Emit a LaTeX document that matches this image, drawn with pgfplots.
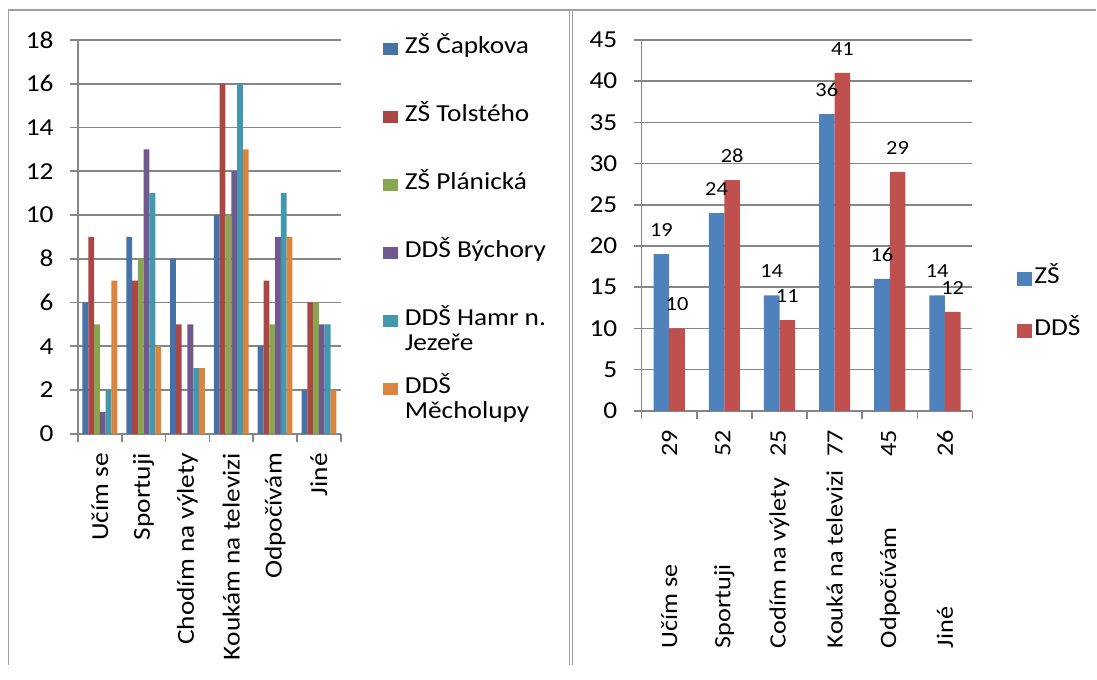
\documentclass[border=0pt]{standalone}
\usepackage{pgfplots}
\pgfplotsset{compat=1.18}
\usepackage{fontspec}
\setmainfont{Carlito}[FakeStretch=1.12]

\definecolor{l1}{HTML}{4572A7}
\definecolor{l2}{HTML}{AA4643}
\definecolor{l3}{HTML}{89A54E}
\definecolor{l4}{HTML}{71588F}
\definecolor{l5}{HTML}{4198AF}
\definecolor{l6}{HTML}{DB843D}
\definecolor{r1}{HTML}{4F81BD}
\definecolor{r2}{HTML}{C0504D}
\definecolor{axgray}{HTML}{868686}
\definecolor{framegray}{HTML}{A0A0A0}

\newcommand\chartfont{\fontsize{12.2pt}{12.5pt}\selectfont}
\newcommand\lgd[1]{\raisebox{0pt}[8pt][0pt]{#1}}
\newcommand\cat[2]{\hbox to 109pt{\fontsize{11.7pt}{12.5pt}\selectfont #1\hfill #2}}

\pgfplotsset{
  base/.style={
    scale only axis, anchor=south west, clip=false,
    xmin=0.5, xmax=6.5,
    axis lines*=left,
    axis line style={draw=axgray, line width=0.8pt},
    ymajorgrids, grid style={draw=axgray, line width=0.8pt},
    tick align=outside, major tick length=4pt,
    tick style={draw=axgray, line width=0.8pt},
    xtick={0.5,1.5,...,6.5}, xticklabels={},
    extra x ticks={1,2,3,4,5,6},
    extra x tick style={grid=none, major tick length=0pt,
      tick label style={rotate=90, anchor=east, inner xsep=9.5pt, inner ysep=0pt}},
    /pgf/number format/assume math mode=true,
    tick label style={font=\chartfont},
    yticklabel style={anchor=east, inner xsep=8pt},
    legend cell align=left,
    legend style={draw=none, fill=none, inner sep=0pt, outer sep=0pt,
      nodes={inner sep=0pt, outer sep=0pt}, font=\chartfont},
  },
}

\begin{document}
\begin{tikzpicture}
\path (0pt,0pt) rectangle (548.5pt,332.5pt);
\draw[framegray, line width=0.6pt] (4pt,327.5pt) -- (548.5pt,327.5pt);
\draw[framegray, line width=0.8pt] (4.25pt,327.5pt) -- (4.25pt,0pt);
\draw[framegray, line width=0.6pt] (284.75pt,327.5pt) -- (284.75pt,0pt);
\draw[framegray, line width=0.6pt] (286.5pt,327.5pt) -- (286.5pt,0pt);

\begin{axis}[base,
  at={(39pt,115.5pt)}, width=131.5pt, height=197pt,
  ymin=0, ymax=18, ytick={0,2,...,18},
  ybar=0pt, bar width=2.9pt,
  extra x tick labels={Učím se, Sportuji, Chodím na výlety, Koukám na televizi, Odpočívám, Jiné},
  legend style={at={(rel axis cs:1.1597,1.0051)}, anchor=north west,
    row sep=24.5pt, column sep=3.5pt},
  legend image code/.code={\fill[#1] (0pt,-3.65pt) rectangle (7.5pt,2.15pt);},
]
\addplot[fill=l1, draw=none] coordinates {(1,6) (2,9) (3,8) (4,10) (5,4) (6,2)};
\addlegendentry{\lgd{ZŠ Čapkova}}
\addplot[fill=l2, draw=none] coordinates {(1,9) (2,7) (3,5) (4,16) (5,7) (6,6)};
\addlegendentry{\lgd{ZŠ Tolstého}}
\addplot[fill=l3, draw=none] coordinates {(1,5) (2,8) (3,0) (4,10) (5,5) (6,6)};
\addlegendentry{\lgd{ZŠ Plánická}}
\addplot[fill=l4, draw=none] coordinates {(1,1) (2,13) (3,5) (4,12) (5,9) (6,5)};
\addlegendentry{\lgd{DDŠ Býchory}}
\addplot[fill=l5, draw=none] coordinates {(1,2) (2,11) (3,3) (4,16) (5,11) (6,5)};
\addlegendentry{\lgd{\parbox[t]{80pt}{DDŠ Hamr n.\\Jezeře}}}
\addplot[fill=l6, draw=none] coordinates {(1,7) (2,4) (3,3) (4,13) (5,9) (6,2)};
\addlegendentry{\lgd{\parbox[t]{80pt}{DDŠ\\Měcholupy}}}
\end{axis}

\begin{axis}[base,
  at={(321pt,127pt)}, width=165.5pt, height=185.5pt,
  ymin=0, ymax=45, ytick={0,5,...,45},
  ybar=0pt, bar width=7.8pt,
  extra x tick labels={
    {\cat{Učím se}{29}},
    {\cat{Sportuji}{52}},
    {\cat{Codím na výlety}{25}},
    {\cat{Kouká na televizi}{77}},
    {\cat{Odpočívám}{45}},
    {\cat{Jiné}{26}}},
  nodes near coords,
  every node near coord/.append style={font=\fontsize{10pt}{11pt}\selectfont, anchor=center, yshift=12pt},
  legend style={at={(rel axis cs:1.1360,0.3854)}, anchor=north west,
    row sep=16.5pt, column sep=1.2pt},
  legend image code/.code={\fill[#1] (0pt,-4.5pt) rectangle (7.2pt,2.65pt);},
]
\addplot[fill=r1, draw=none] coordinates {(1,19) (2,24) (3,14) (4,36) (5,16) (6,14)};
\addlegendentry{\lgd{ZŠ}}
\addplot[fill=r2, draw=none] coordinates {(1,10) (2,28) (3,11) (4,41) (5,29) (6,12)};
\addlegendentry{\lgd{DDŠ}}
\end{axis}
\end{tikzpicture}
\end{document}
